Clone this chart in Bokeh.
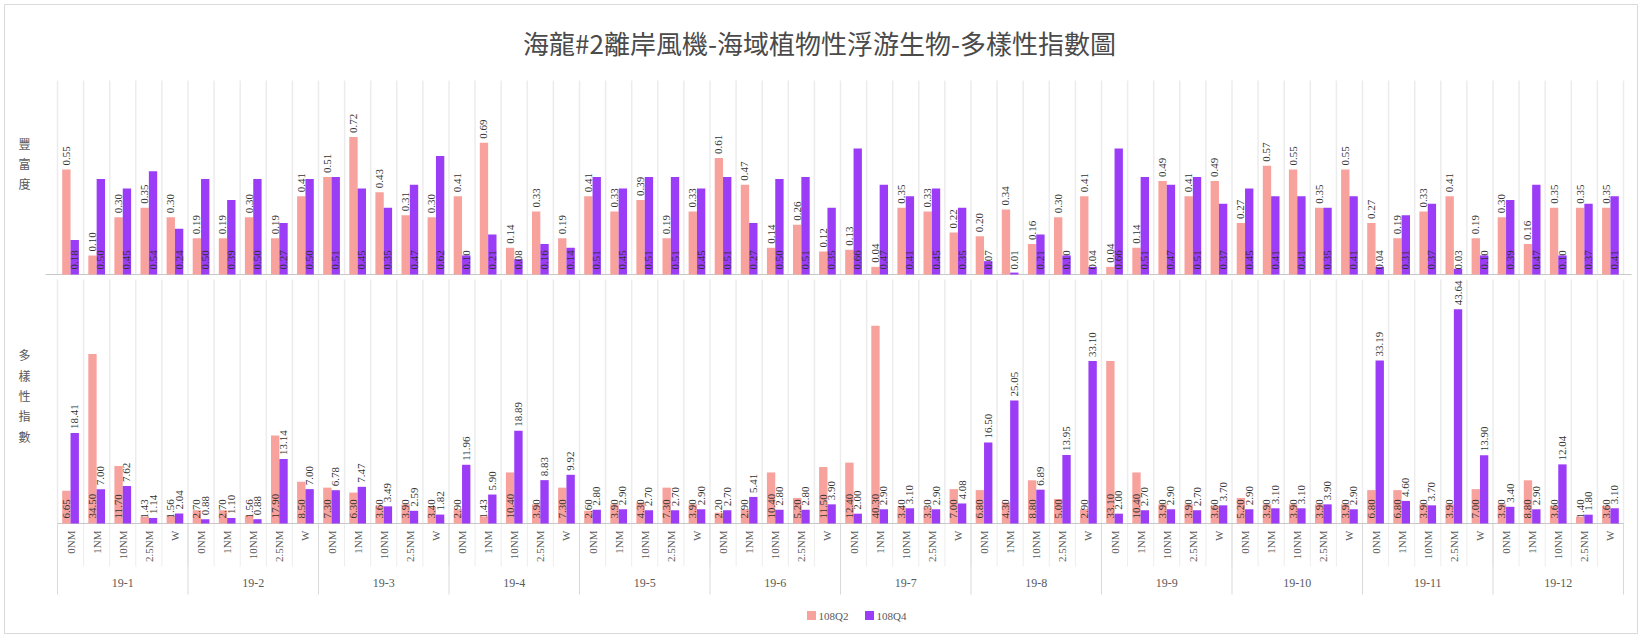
import math
from bokeh.plotting import figure
from bokeh.models import Range1d, ColumnDataSource
from bokeh.core.properties import value
from bokeh.embed import file_html
from bokeh.resources import INLINE

# ---- data -------------------------------------------------------------
groups = ["19-1", "19-2", "19-3", "19-4", "19-5", "19-6",
          "19-7", "19-8", "19-9", "19-10", "19-11", "19-12"]
stations = ["0NM", "1NM", "10NM", "2.5NM", "W"]
series_names = ["108Q2", "108Q4"]
upper_title = "豐富度"
lower_title = "多樣性指數"

# upper panel index (per station, grouped by transect)
upper_q2 = [0.55, 0.10, 0.30, 0.35, 0.30,
            0.19, 0.19, 0.30, 0.19, 0.41,
            0.51, 0.72, 0.43, 0.31, 0.30,
            0.41, 0.69, 0.14, 0.33, 0.19,
            0.41, 0.33, 0.39, 0.19, 0.33,
            0.61, 0.47, 0.14, 0.26, 0.12,
            0.13, 0.04, 0.35, 0.33, 0.22,
            0.20, 0.34, 0.16, 0.30, 0.41,
            0.04, 0.14, 0.49, 0.41, 0.49,
            0.27, 0.57, 0.55, 0.35, 0.55,
            0.27, 0.19, 0.33, 0.41, 0.19,
            0.30, 0.16, 0.35, 0.35, 0.35]
upper_q4 = [0.18, 0.50, 0.45, 0.54, 0.24,
            0.50, 0.39, 0.50, 0.27, 0.50,
            0.51, 0.45, 0.35, 0.47, 0.62,
            0.10, 0.21, 0.08, 0.16, 0.14,
            0.51, 0.45, 0.51, 0.51, 0.45,
            0.51, 0.27, 0.50, 0.51, 0.35,
            0.66, 0.47, 0.41, 0.45, 0.35,
            0.07, 0.01, 0.21, 0.10, 0.04,
            0.66, 0.51, 0.47, 0.51, 0.37,
            0.45, 0.41, 0.41, 0.35, 0.41,
            0.04, 0.31, 0.37, 0.03, 0.10,
            0.39, 0.47, 0.10, 0.37, 0.41]

# lower panel index
lower_q2 = [6.65, 34.50, 11.70, 1.43, 1.56,
            2.70, 2.70, 1.56, 17.90, 8.50,
            7.30, 6.30, 3.60, 3.90, 3.40,
            2.90, 1.43, 10.40, 3.90, 7.30,
            2.60, 3.90, 4.30, 7.30, 3.90,
            2.20, 2.90, 10.40, 5.20, 11.50,
            12.40, 40.30, 3.40, 3.30, 7.00,
            6.80, 4.30, 8.80, 5.00, 2.90,
            33.10, 10.40, 3.90, 3.90, 3.60,
            5.20, 3.90, 3.90, 3.90, 3.90,
            6.80, 6.80, 3.90, 3.90, 7.00,
            3.90, 8.80, 3.60, 1.40, 3.60]
lower_q4 = [18.41, 7.00, 7.62, 1.14, 2.04,
            0.88, 1.10, 0.88, 13.14, 7.00,
            6.78, 7.47, 3.49, 2.59, 1.82,
            11.96, 5.90, 18.89, 8.83, 9.92,
            2.80, 2.90, 2.70, 2.70, 2.90,
            2.70, 5.41, 2.80, 2.80, 3.90,
            2.00, 2.90, 3.10, 2.90, 4.08,
            16.50, 25.05, 6.89, 13.95, 33.10,
            2.00, 2.70, 2.90, 2.70, 3.70,
            2.90, 3.10, 3.10, 3.90, 2.90,
            33.19, 4.60, 3.70, 43.64, 13.90,
            3.40, 2.90, 12.04, 1.80, 3.10]

# ---- layout constants (pixels) -----------------------------------------
W, H = 1641, 637
CAT_LEFT, CAT_W = 57, 26.1          # plot area left edge, width of one category
TOP_BASE, TOP_SCALE = 274, 191.0    # upper panel baseline and px per unit
BOT_BASE, BOT_SCALE = 523, 4.91     # lower panel baseline and px per unit
TOP_Y0, BOT_Y0 = 80, 279            # top of each panel's plot area

PINK = "#F7A29D"
PURPLE = "#9B3CF6"
TXT = "#333333"
AXT = "#595959"
SERIF = value("Liberation Serif")
CJK = value("Noto Sans CJK TC")

p = figure(width=W, height=H, output_backend="svg", toolbar_location=None,
           x_range=Range1d(0, W), y_range=Range1d(H, 0),
           x_axis_location=None, y_axis_location=None, min_border=0,
           background_fill_color="white", border_fill_color="white")
p.outline_line_color = None
p.grid.visible = False
p.extra_x_ranges = {"cat": Range1d(-CAT_LEFT / CAT_W, (W - CAT_LEFT) / CAT_W)}
p.extra_y_ranges = {
    "top": Range1d(-(H - TOP_BASE) / TOP_SCALE, TOP_BASE / TOP_SCALE),
    "bot": Range1d(-(H - BOT_BASE) / BOT_SCALE, BOT_BASE / BOT_SCALE),
}

n = len(groups) * len(stations)
centers = [i + 0.5 for i in range(n)]
bw = 0.32
src = ColumnDataSource(dict(
    xa=[c - bw / 2 for c in centers],
    xb=[c + bw / 2 for c in centers],
    uq2=upper_q2, uq4=upper_q4, lq2=lower_q2, lq4=lower_q4,
    uq2_t=[f"{v:.2f}" for v in upper_q2], uq4_t=[f"{v:.2f}" for v in upper_q4],
    lq2_t=[f"{v:.2f}" for v in lower_q2], lq4_t=[f"{v:.2f}" for v in lower_q4],
))

# outer chart border
p.quad(left=4, right=W - 4, top=4, bottom=H - 4, fill_color=None,
       line_color="#d9d9d9", line_width=1)

# vertical category gridlines for both panels
bounds = list(range(n + 1))
p.segment(x0=bounds, x1=bounds, y0=[TOP_Y0] * len(bounds), y1=[TOP_BASE] * len(bounds),
          x_range_name="cat", line_color="#ececec", line_width=1.5)
p.segment(x0=bounds, x1=bounds, y0=[BOT_Y0] * len(bounds), y1=[BOT_BASE] * len(bounds),
          x_range_name="cat", line_color="#ececec", line_width=1.5)
# tick separators in the category label band
p.segment(x0=bounds, x1=bounds, y0=[BOT_BASE] * len(bounds), y1=[566] * len(bounds),
          x_range_name="cat", line_color="#ededed", line_width=1)
gb = [g * len(stations) for g in range(len(groups) + 1)]
p.segment(x0=gb, x1=gb, y0=[BOT_BASE] * len(gb), y1=[594] * len(gb),
          x_range_name="cat", line_color="#d9d9d9", line_width=1)

# baselines
p.segment(x0=[45], x1=[CAT_LEFT + n * CAT_W + 8], y0=[TOP_BASE], y1=[TOP_BASE],
          line_color="#c8c8c8", line_width=1)
p.segment(x0=[CAT_LEFT], x1=[CAT_LEFT + n * CAT_W], y0=[BOT_BASE], y1=[BOT_BASE],
          line_color="#c8c8c8", line_width=1)

# bars
p.vbar(x="xa", top="uq2", bottom=0, width=bw, source=src, x_range_name="cat",
       y_range_name="top", fill_color=PINK, line_color=None)
p.vbar(x="xb", top="uq4", bottom=0, width=bw, source=src, x_range_name="cat",
       y_range_name="top", fill_color=PURPLE, line_color=None)
p.vbar(x="xa", top="lq2", bottom=0, width=bw, source=src, x_range_name="cat",
       y_range_name="bot", fill_color=PINK, line_color=None)
p.vbar(x="xb", top="lq4", bottom=0, width=bw, source=src, x_range_name="cat",
       y_range_name="bot", fill_color=PURPLE, line_color=None)

lab = dict(source=src, x_range_name="cat", angle=math.pi / 2, text_align="left",
           text_baseline="middle", text_font=SERIF, text_font_size="11px", text_color=TXT)
# upper panel: 108Q2 above the bar, 108Q4 at the bar base
p.text(x="xa", y="uq2", text="uq2_t", y_range_name="top", y_offset=-4, **lab)
p.text(x="xb", y=0, text="uq4_t", y_range_name="top", y_offset=-5, **lab)
# lower panel: 108Q2 at the bar base, 108Q4 above the bar
p.text(x="xa", y=0, text="lq2_t", y_range_name="bot", y_offset=-5, **lab)
p.text(x="xb", y="lq4", text="lq4_t", y_range_name="bot", y_offset=-4, **lab)

# category labels and group labels
p.text(x=centers, y=[BOT_BASE + 7] * n, text=stations * len(groups), x_range_name="cat",
       angle=math.pi / 2, text_align="right", text_baseline="middle",
       text_font=SERIF, text_font_size="11px", text_color=AXT)
p.text(x=[g * len(stations) + 2.5 for g in range(len(groups))], y=[582] * len(groups),
       text=groups, x_range_name="cat", text_align="center", text_baseline="middle",
       text_font=SERIF, text_font_size="12px", text_color=AXT)

# panel titles, one character per line
p.text(x=[24, 24], y=[163, 395], text=["\n".join(upper_title), "\n".join(lower_title)],
       text_align="center", text_baseline="middle", text_font=CJK,
       text_font_size="12px", text_color=AXT, text_line_height=1.2)

# chart title
p.text(x=[819], y=[42], text=["海龍#2離岸風機-海域植物性浮游生物-多樣性指數圖"],
       text_align="center", text_baseline="middle", text_font=CJK,
       text_font_size="26px", text_color="#4a4a4a")

# legend
p.rect(x=[811, 869], y=[615, 615], width=9, height=9, fill_color=[PINK, PURPLE], line_color=None)
p.text(x=[818, 876], y=[615, 615], text=series_names, text_align="left",
       text_baseline="middle", text_font=SERIF, text_font_size="11px", text_color=AXT)

open("out.html", "w").write(file_html(p, INLINE))
